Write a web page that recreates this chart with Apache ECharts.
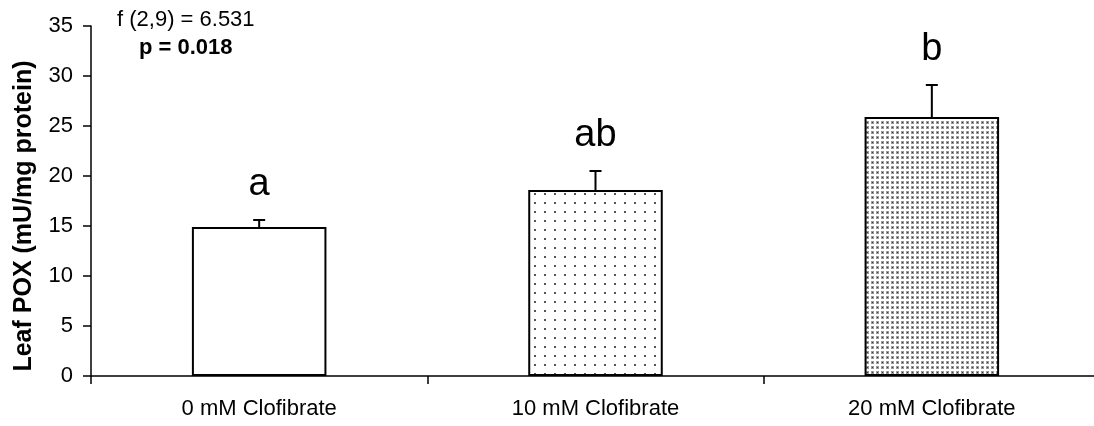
<!DOCTYPE html>
<html>
<head>
<meta charset="utf-8">
<script src="https://cdn.jsdelivr.net/npm/echarts@6/dist/echarts.min.js"></script>
<style>
  html, body { margin: 0; padding: 0; background: #fff; }
  #chart { width: 1094px; height: 426px; }
</style>
</head>
<body>
<div id="chart"></div>
<script>
// Leaf peroxidase activity by clofibrate treatment
const categories = ['0 mM Clofibrate', '10 mM Clofibrate', '20 mM Clofibrate'];
const meanValues = [14.9, 18.6, 25.9];
const errorValues = [0.7, 1.9, 3.2];
const groupLetters = ['a', 'ab', 'b'];
const yTicks = { min: 0, max: 35, interval: 5 };
const yTitle = 'Leaf POX (mU/mg protein)';
const statLine1 = 'f (2,9) = 6.531';
const statLine2 = 'p = 0.018';

const FONT = 'Liberation Sans, Arial, sans-serif';

// Fill patterns for the treatment bars
function makePattern(w, h, draw) {
  const c = document.createElement('canvas');
  c.width = w; c.height = h;
  const ctx = c.getContext('2d');
  ctx.fillStyle = '#ffffff';
  ctx.fillRect(0, 0, w, h);
  draw(ctx);
  return { image: c, repeat: 'repeat' };
}
const sparseDots = makePattern(10, 9, ctx => {
  ctx.fillStyle = '#555';
  ctx.fillRect(4, 4, 2, 2);
});
const denseDots = makePattern(5, 5, ctx => {
  ctx.fillStyle = '#9a9a9a';
  ctx.fillRect(1, 1, 3, 3);
  ctx.fillStyle = '#3c3c3c';
  ctx.fillRect(2, 2, 1, 1);
});
const barFills = ['#ffffff', sparseDots, denseDots];

const chart = echarts.init(document.getElementById('chart'), null, { renderer: 'canvas' });

chart.setOption({
  animation: false,
  backgroundColor: '#ffffff',
  grid: { left: 91, top: 26, height: 350, width: 1009, containLabel: false, outerBoundsMode: 'none' },
  xAxis: {
    type: 'category',
    data: categories,
    boundaryGap: true,
    axisLine: { show: true, lineStyle: { color: '#000', width: 1.5 } },
    axisTick: { show: true, inside: false, length: 8, alignWithLabel: false, lineStyle: { color: '#000', width: 1.5 } },
    axisLabel: { color: '#000', fontFamily: FONT, fontSize: 22, margin: 22 },
    splitLine: { show: false }
  },
  yAxis: {
    type: 'value',
    min: yTicks.min,
    max: yTicks.max,
    interval: yTicks.interval,
    axisLine: { show: true, lineStyle: { color: '#000', width: 1.5 } },
    axisTick: { show: true, inside: false, length: 8, lineStyle: { color: '#000', width: 1.5 } },
    axisLabel: { color: '#000', fontFamily: FONT, fontSize: 22, margin: 18 },
    splitLine: { show: false }
  },
  graphic: [
    {
      type: 'text', x: 24, y: 216, rotation: Math.PI / 2,
      style: { text: yTitle, fill: '#000', font: 'bold 25px ' + FONT, textAlign: 'center', textVerticalAlign: 'middle' }
    },
    {
      type: 'text', x: 117, y: 20,
      style: { text: statLine1, fill: '#000', font: '22px ' + FONT, textAlign: 'left', textVerticalAlign: 'middle' }
    },
    {
      type: 'text', x: 139, y: 48,
      style: { text: statLine2, fill: '#000', font: 'bold 22px ' + FONT, textAlign: 'left', textVerticalAlign: 'middle' }
    }
  ],
  series: [
    {
      type: 'bar',
      barWidth: '40%',
      data: meanValues.map((v, i) => ({
        value: v,
        itemStyle: { color: barFills[i], borderColor: '#000', borderWidth: 2 }
      })),
      z: 2
    },
    {
      // upper error bars
      type: 'custom',
      z: 3,
      data: meanValues.map((v, i) => [i, v, v + errorValues[i]]),
      renderItem: function (params, api) {
        const base = api.coord([api.value(0), api.value(1)]);
        const top = api.coord([api.value(0), api.value(2)]);
        const half = 6;
        return {
          type: 'group',
          children: [
            { type: 'line', shape: { x1: base[0], y1: base[1], x2: top[0], y2: top[1] }, style: { stroke: '#000', lineWidth: 2 } },
            { type: 'line', shape: { x1: top[0] - half, y1: top[1], x2: top[0] + half, y2: top[1] }, style: { stroke: '#000', lineWidth: 2 } }
          ]
        };
      }
    },
    {
      // significance letters above the error bars
      type: 'scatter',
      symbolSize: 0,
      z: 4,
      itemStyle: { opacity: 1 },
      data: meanValues.map((v, i) => [i, v + errorValues[i]]),
      label: {
        show: true,
        position: 'top',
        distance: 16,
        color: '#000',
        opacity: 1,
        fontFamily: FONT,
        fontSize: 38,
        formatter: p => groupLetters[p.dataIndex]
      }
    }
  ]
});
</script>
</body>
</html>
